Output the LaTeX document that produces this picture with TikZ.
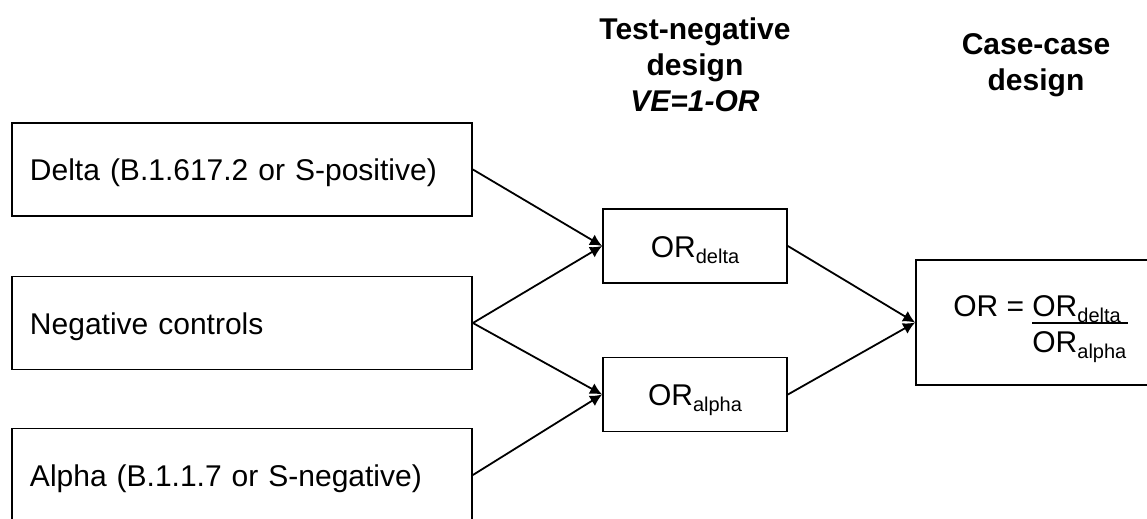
\documentclass[tikz,border=0pt]{standalone}
\usepackage{fontspec}
\setmainfont{Liberation Sans}
\usetikzlibrary{arrows.meta}
\newcommand{\mysub}[1]{\raisebox{-3pt}{\fontsize{10}{12}\selectfont #1}}
\begin{document}
\begin{tikzpicture}[x=0.5pt,y=-0.5pt,
  txt/.style={font=\fontsize{15}{18}\selectfont},
  lbox/.style={txt, draw, line width=0.9pt, minimum width=230pt, minimum height=46.5pt,
    text width=212pt, align=left, inner xsep=9pt, text height=11pt, text depth=0pt},
  mbox/.style={txt, draw, line width=0.9pt, minimum width=92pt, minimum height=37pt,
    text height=11pt, text depth=0pt},
  rbox/.style={draw, line width=0.9pt, minimum width=127pt, minimum height=62.5pt},
  eq/.style={txt, inner sep=0pt, anchor=base west},
  ttl/.style={align=center, inner sep=0pt, anchor=north, font=\fontsize{15}{18}\selectfont\bfseries},
  conn/.style={line width=0.9pt, -{Latex[length=6pt,width=6pt]}}]
\clip (0,0) rectangle (1147,519);
\fill[white] (0,0) rectangle (1147,519);
% left boxes
\node[lbox] (delta) at (242,169.5) {Delta (B.1.617.2 or S-positive)};
\node[lbox] (neg) at (242,323) {Negative controls};
\node[lbox] (alpha) at (242,475) {Alpha (B.1.1.7 or S-negative)};
% middle boxes
\node[mbox] (od) at (695,246) {OR\mysub{delta}};
\node[mbox] (oa) at (695,394.5) {OR\mysub{alpha}};
% right box
\node[rbox] (rb) at (1043,322.5) {};
\node[eq] (lhs) at (953,316) {OR =};
\node[eq] (num) at (1032,316) {OR\mysub{delta}};
\node[eq] (den) at (1032,352) {OR\mysub{alpha}};
\draw[line width=0.6pt] (1032,323) -- (1128,323);
% titles
\node[ttl] (tn) at (695,17) {Test-negative\\design\\\textit{VE=1-OR}};
\node[ttl] (ccd) at (1036,33) {Case-case\\design};
% connectors
\draw[conn] (delta.east) -- (od.west);
\draw[conn] (neg.east) -- (od.west);
\draw[conn] (neg.east) -- (oa.west);
\draw[conn] (alpha.east) -- (oa.west);
\draw[conn] (od.east) -- (rb.west);
\draw[conn] (oa.east) -- (rb.west);
\end{tikzpicture}
\end{document}
